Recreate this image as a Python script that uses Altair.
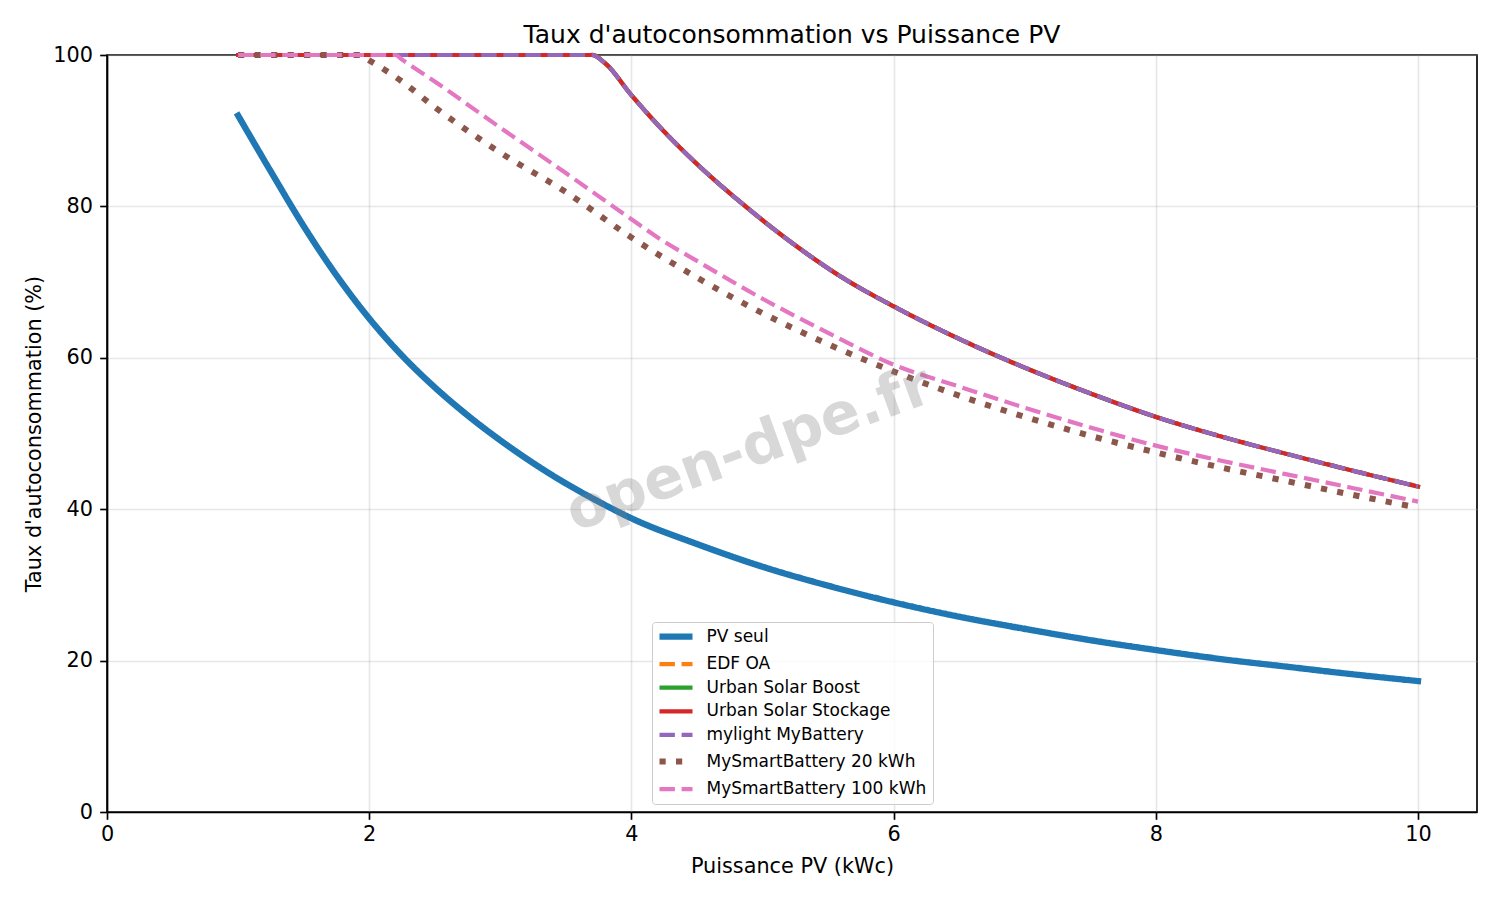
import altair as alt
import pandas as pd

# ---------------- data ----------------
SERIES = ["PV seul", "EDF OA", "Urban Solar Boost", "Urban Solar Stockage",
          "mylight MyBattery", "MySmartBattery 20 kWh", "MySmartBattery 100 kWh"]
COLORS = ["#1f77b4", "#ff7f0e", "#2ca02c", "#d62728", "#9467bd", "#8c564b", "#e377c2"]
DASHES = [[1, 0], [15.4, 6.7], [1, 0], [1, 0], [15.4, 6.7], [6.2, 10.3], [15.4, 6.7]]
WIDTHS = [6.25, 4.2, 4.2, 4.2, 4.2, 6.0, 4.2]

pv_x = [1, 1.25, 1.5, 1.75, 2, 2.25, 2.5, 2.75, 3, 3.25, 3.5, 3.75, 4, 4.5, 5, 5.5,
        6, 6.5, 7, 7.5, 8, 8.5, 9, 9.5, 10]
pv_y = [92.0, 84.6, 77.4, 70.9, 65.2, 60.3, 56.1, 52.4, 49.1, 46.1, 43.4, 41.0, 38.8,
        35.4, 32.4, 29.9, 27.7, 25.8, 24.2, 22.7, 21.4, 20.2, 19.2, 18.2, 17.3]

bat_x = [1, 3.7, 3.8, 4, 4.2, 4.5, 4.85, 5.2, 5.6, 6, 6.5, 7, 7.5, 8, 8.5, 9, 9.5, 10]
edf_y = [100, 100, 98.9, 94.7, 90.8, 85.6, 80.3, 75.5, 70.7, 66.8, 62.5, 58.7, 55.3,
         52.2, 49.6, 47.3, 45.1, 43.0]
usb_y = [100, 100, 98.9, 94.7, 90.8, 85.6, 80.3, 75.5, 70.7, 66.8, 62.5, 58.7, 55.3,
         52.2, 49.6, 47.3, 45.1, 43.0]
uss_y = [100, 100, 98.9, 94.7, 90.8, 85.6, 80.3, 75.5, 70.7, 66.8, 62.5, 58.7, 55.3,
         52.2, 49.6, 47.3, 45.1, 43.0]
myl_y = [100, 100, 98.9, 94.7, 90.8, 85.6, 80.3, 75.5, 70.7, 66.8, 62.5, 58.7, 55.3,
         52.2, 49.6, 47.3, 45.1, 43.0]

msb20_x = [1, 1.93, 2, 2.25, 2.5, 2.75, 3, 3.5, 4, 4.5, 5, 5.5, 6, 6.5, 7, 7.5, 8,
           8.5, 9, 9.5, 10]
msb20_y = [100, 100, 99.3, 96.5, 93.1, 90.0, 87.1, 81.9, 75.9, 70.6, 65.9, 61.8, 58.2,
           55.0, 52.2, 49.7, 47.5, 45.5, 43.7, 41.9, 40.2]

msb100_x = [1, 2.2, 2.25, 2.5, 3, 3.5, 4, 4.2, 4.5, 5, 5.5, 6, 6.5, 7, 7.5, 8, 8.5, 9,
            9.5, 10]
msb100_y = [100, 100, 99.4, 96.5, 90.4, 84.4, 78.3, 75.9, 72.8, 67.8, 63.3, 59.1, 56.2,
            53.4, 50.8, 48.4, 46.4, 44.6, 42.8, 41.0]

WATERMARK = ["open-dpe.fr"]
WM_X = [4.9]
WM_Y = [47.8]

series_data = [
    (pv_x, pv_y), (bat_x, edf_y), (bat_x, usb_y), (bat_x, uss_y),
    (bat_x, myl_y), (msb20_x, msb20_y), (msb100_x, msb100_y),
]

FONT = "DejaVu Sans"

# ---------------- chart ----------------
x_enc = alt.X("x:Q", title="Puissance PV (kWc)",
              scale=alt.Scale(domain=[0, 10.45], nice=False, zero=False),
              axis=alt.Axis(values=[0, 2, 4, 6, 8, 10], format="d", labelFlush=False,
                            labelPadding=5.5, titlePadding=12))
y_enc = alt.Y("y:Q", title="Taux d'autoconsommation (%)",
              scale=alt.Scale(domain=[0, 100], nice=False),
              axis=alt.Axis(values=[0, 20, 40, 60, 80, 100], format="d", labelFlush=False))

def sig_map(values, default):
    expr = str(default)
    for s, v in zip(SERIES, values):
        expr = f"datum.value === '{s}' ? {v} : ({expr})"
    return expr

width_sig = sig_map(WIDTHS, 4.2)

legend = alt.Legend(
    title=None, orient="none", legendX=545, legendY=567,
    symbolType="M-1.65,0H1.65", symbolSize=400,
    symbolStrokeWidth=alt.ExprRef(width_sig),
    labelFont=FONT, labelFontSize=17, labelColor="black", labelLimit=0,
    rowPadding=5.6, padding=6, symbolOffset=9.5, labelOffset=22,
    fillColor="rgba(255,255,255,0.8)", strokeColor="#cccccc", cornerRadius=3.3,
)

color_enc = alt.Color("serie:N", scale=alt.Scale(domain=SERIES, range=COLORS), legend=legend)
dash_enc = alt.StrokeDash("serie:N", scale=alt.Scale(domain=SERIES, range=DASHES), legend=legend)

layers = []
for i, (name, (xs, ys), w) in enumerate(zip(SERIES, series_data, WIDTHS)):
    df = pd.DataFrame({"x": xs, "y": ys, "serie": name})
    cap = "square" if DASHES[i] == [1, 0] else "butt"
    layers.append(
        alt.Chart(df).mark_line(strokeWidth=w, strokeCap=cap, strokeJoin="round",
                                interpolate="monotone")
        .encode(x=x_enc, y=y_enc, color=color_enc, strokeDash=dash_enc)
    )

wm_df = pd.DataFrame({"t": WATERMARK, "x": WM_X, "y": WM_Y})
wm = alt.Chart(wm_df).mark_text(
    angle=340, fontSize=58, fontWeight="bold", font=FONT, color="gray",
    opacity=0.3, align="center", baseline="middle"
).encode(x=alt.X("x:Q", scale=alt.Scale(domain=[0, 10.45], nice=False, zero=False)),
         y=alt.Y("y:Q", scale=alt.Scale(domain=[0, 100], nice=False)),
         text="t:N")

chart = alt.layer(*layers, wm).properties(
    width=1370, height=757,
    background="white",
    title=alt.TitleParams("Taux d'autoconsommation vs Puissance PV", font=FONT,
                          fontSize=25, fontWeight="normal", color="black",
                          anchor="middle", offset=2, dy=6),
    autosize=alt.AutoSizeParams(type="none"),
    padding={"left": 99, "top": 47, "right": 15, "bottom": 80},
).configure_view(
    stroke="black", strokeWidth=1.67
).configure_axis(
    domainColor="black", domainWidth=1.67, tickColor="black", tickWidth=1.67,
    tickSize=7.3, labelFont=FONT, labelFontSize=20.8, labelColor="black",
    labelPadding=7.3, titleFont=FONT, titleFontSize=20.8, titleFontWeight="normal",
    titleColor="black", titlePadding=8.3, gridColor="#b0b0b0", gridOpacity=0.3,
    gridWidth=1.67
)

chart.save("out.html", embed_options={"renderer": "svg", "actions": False})
